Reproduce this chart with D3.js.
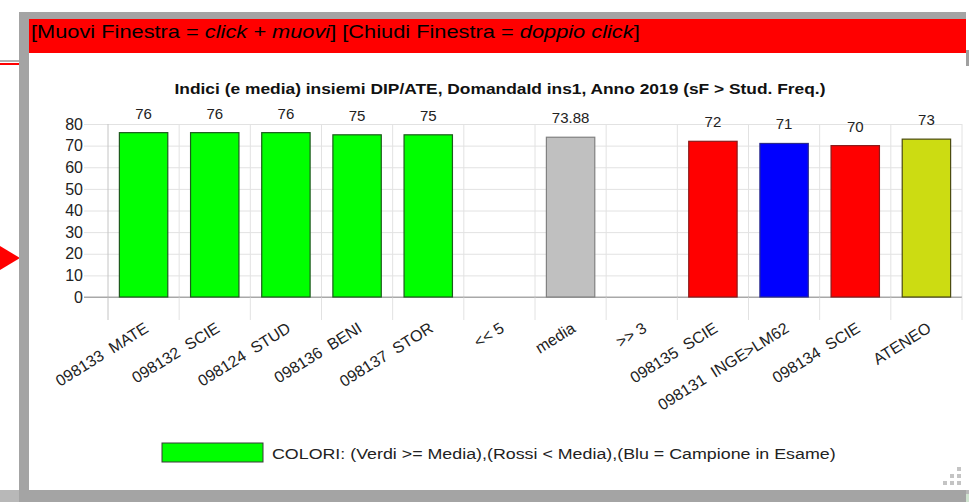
<!DOCTYPE html>
<html>
<head>
<meta charset="utf-8">
<script src="https://cdn.jsdelivr.net/npm/d3@7"></script>
<style>
    body { margin: 0; background: #fff; }
    svg { display: block; font-family: "Liberation Sans", Arial, sans-serif; }
    .cat-label { white-space: pre; }
</style>
</head>
<body>
<svg id="popup-chart"></svg>
<script>
// Chart data
const categories = ["098133  MATE", "098132  SCIE", "098124  STUD", "098136  BENI", "098137  STOR",
    "<< 5", "media", ">> 3", "098135  SCIE", "098131  INGE>LM62", "098134  SCIE", "ATENEO"];
const values = [76, 76, 76, 75, 75, null, 73.88, null, 72, 71, 70, 73];
const valueLabels = ["76", "76", "76", "75", "75", "", "73.88", "", "72", "71", "70", "73"];
const groups = ["verdi", "verdi", "verdi", "verdi", "verdi", "vuoto", "media", "vuoto",
    "rossi", "blu", "rossi", "ateneo"];
const yTicks = [0, 10, 20, 30, 40, 50, 60, 70, 80];

const titleText = "Indici (e media) insiemi DIP/ATE, DomandaId ins1, Anno 2019 (sF > Stud. Freq.)";
const legendText = "COLORI: (Verdi >= Media),(Rossi < Media),(Blu = Campione in Esame)";

const width = 969;
const height = 502;
const plot = { left: 108, right: 962, top: 124, bottom: 297 };

let svg = d3.select("#popup-chart")
    .attr("width", width)
    .attr("height", height);

// squeeze/stretch a text node to a given width
function fitWidth(sel, x, w) {
    let len = sel.node().getComputedTextLength();
    sel.attr("transform", `translate(${x},0) scale(${w / len},1) translate(${-x},0)`);
}

// --- page behind the popup ---
svg.append("rect").attr("x", 0).attr("y", 60).attr("width", 19).attr("height", 2).attr("fill", "#b0b0b0");
svg.append("rect").attr("x", 0).attr("y", 63).attr("width", 19).attr("height", 2).attr("fill", "#f00");
svg.append("path").attr("d", "M0,246L20,258L0,270Z").attr("fill", "#f00");
svg.append("rect").attr("x", 19).attr("y", 304).attr("width", 2).attr("height", 6).attr("fill", "#3a7bd5");
svg.append("rect").attr("x", 966).attr("y", 50).attr("width", 3).attr("height", 16).attr("fill", "#a0a0a0");

// bottom strip of the table behind
svg.append("rect").attr("x", 0).attr("y", 490).attr("width", width).attr("height", 12).attr("fill", "#b8b8b8");
let cellEdges = [180, 323, 466, 612, 761, 910];
svg.append("g")
    .selectAll("rect")
    .data(cellEdges)
    .join("rect")
    .attr("x", d => d + 2)
    .attr("y", 494)
    .attr("width", 140)
    .attr("height", 8)
    .attr("fill", "#cfe3cf");
svg.append("text").attr("x", 112).attr("y", 501).attr("font-size", 9).attr("fill", "#444").text("2015");

// --- popup frame ---
svg.append("rect").attr("x", 19).attr("y", 12).attr("width", 947).attr("height", 490).attr("fill", "#a4a4a4");
svg.append("rect").attr("x", 29).attr("y", 19).attr("width", 937).attr("height", 34).attr("fill", "#ff0000");
svg.append("rect").attr("x", 29).attr("y", 53).attr("width", 937).attr("height", 437).attr("fill", "#fff");

let header = svg.append("text")
    .attr("x", 31)
    .attr("y", 38)
    .attr("font-size", 18)
    .attr("fill", "#000");
header.append("tspan").text("[Muovi Finestra = ");
header.append("tspan").attr("font-style", "italic").text("click + muovi");
header.append("tspan").text("] [Chiudi Finestra = ");
header.append("tspan").attr("font-style", "italic").text("doppio click");
header.append("tspan").text("]");
fitWidth(header, 31, 609);

// --- chart ---
let yScale = d3.scaleLinear()
    .domain([0, 80])
    .range([plot.bottom, plot.top]);

let cellScale = d3.scaleBand()
    .domain(categories)
    .range([plot.left, plot.right]);

let barScale = d3.scaleBand()
    .domain(categories)
    .range([plot.left, plot.right])
    .paddingInner(0.32)
    .paddingOuter(0.16);

let colorScale = d3.scaleOrdinal()
    .domain(["verdi", "media", "rossi", "blu", "ateneo"])
    .range(["#00ff00", "#c0c0c0", "#ff0000", "#0000ff", "#ccdc12"]);
let strokeScale = d3.scaleOrdinal()
    .domain(["verdi", "media", "rossi", "blu", "ateneo"])
    .range(["#1c5a1c", "#808080", "#8a1a1a", "#2a2a8a", "#4a4a10"]);

// horizontal grid + y labels
let yAxis = g => g
    .attr("transform", `translate(84,0)`)
    .call(d3.axisLeft(yScale).tickValues(yTicks).tickSize(-(plot.right - 84)).tickPadding(1))
    .call(g => g.select(".domain").remove())
    .call(g => g.selectAll(".tick line").attr("stroke", d => d === 0 ? "#a8a8a8" : "#e2e2e2"))
    .call(g => g.selectAll(".tick text")
        .attr("font-size", 16)
        .attr("fill", "#222")
        .attr("font-family", "\"Liberation Sans\", Arial, sans-serif"));

svg.append("g").call(yAxis);

// vertical grid, reaching below the zero line
let edges = categories.map(c => cellScale(c)).concat([plot.right]);
svg.append("g")
    .selectAll("line")
    .data(edges)
    .join("line")
    .attr("x1", d => d)
    .attr("x2", d => d)
    .attr("y1", plot.top)
    .attr("y2", 320)
    .attr("stroke", (d, i) => i === 0 ? "#c4c4c4" : "#e2e2e2");

// redraw zero line above the verticals
svg.append("line")
    .attr("x1", 84).attr("x2", plot.right)
    .attr("y1", yScale(0)).attr("y2", yScale(0))
    .attr("stroke", "#a8a8a8");

let barData = categories.map((c, i) => ({ cat: c, value: values[i], label: valueLabels[i], group: groups[i] }))
    .filter(d => d.value !== null);

svg.append("g")
    .selectAll("rect")
    .data(barData)
    .join("rect")
    .attr("x", d => barScale(d.cat))
    .attr("y", d => yScale(d.value))
    .attr("width", barScale.bandwidth())
    .attr("height", d => yScale(0) - yScale(d.value))
    .attr("fill", d => colorScale(d.group))
    .attr("stroke", d => strokeScale(d.group))
    .attr("stroke-width", 1.2);

svg.append("g")
    .selectAll("text")
    .data(barData)
    .join("text")
    .attr("x", d => barScale(d.cat) + barScale.bandwidth() / 2)
    .attr("y", d => yScale(d.value) - 14)
    .attr("text-anchor", "middle")
    .attr("font-size", 15)
    .attr("fill", "#222")
    .text(d => d.label);

// rotated category labels
svg.append("g")
    .selectAll("text")
    .data(categories)
    .join("text")
    .classed("cat-label", true)
    .attr("text-anchor", "end")
    .attr("font-size", 16)
    .attr("fill", "#222")
    .attr("transform", d => `translate(${cellScale(d) + cellScale.bandwidth() / 2 + 6},331) rotate(-32)`)
    .text(d => d);

// title
let title = svg.append("text")
    .attr("x", 500)
    .attr("y", 94)
    .attr("text-anchor", "middle")
    .attr("font-size", 14)
    .attr("font-weight", "bold")
    .attr("fill", "#111")
    .text(titleText);
fitWidth(title, 500, 652);

// legend
svg.append("rect")
    .attr("x", 162).attr("y", 443)
    .attr("width", 101).attr("height", 19)
    .attr("fill", colorScale("verdi"))
    .attr("stroke", "#3a3a3a");
let legend = svg.append("text")
    .attr("x", 272)
    .attr("y", 459)
    .attr("font-size", 15)
    .attr("fill", "#222")
    .text(legendText);
fitWidth(legend, 272, 564);

// resize grip
let gripDots = [[957, 467], [950, 474], [957, 474], [943, 481], [950, 481], [957, 481]];
svg.append("g")
    .selectAll("rect")
    .data(gripDots)
    .join("rect")
    .attr("x", d => d[0])
    .attr("y", d => d[1])
    .attr("width", 4)
    .attr("height", 4)
    .attr("fill", "#c4c4c4");
</script>
</body>
</html>
